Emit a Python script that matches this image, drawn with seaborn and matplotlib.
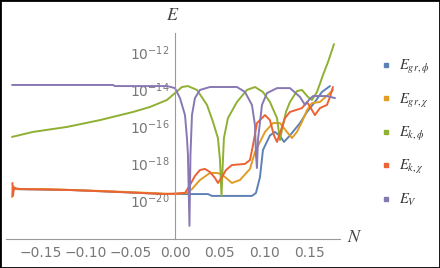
import numpy as np
import pandas as pd
import seaborn as sns
import matplotlib.pyplot as plt
import matplotlib.ticker as mticker
from matplotlib.lines import Line2D
from matplotlib.patches import Rectangle

# Values: N and log10(E) for each energy component
n_grphi = [-0.181, -0.117, -0.0615, -0.0112, 0.0, 0.0369, 0.0413, 0.086, 0.0905, 0.095, 0.0983,
           0.1061, 0.1117, 0.1173, 0.1218, 0.1285, 0.1397, 0.1475, 0.1564, 0.1642, 0.1732]
e_grphi = [-19.41, -19.46, -19.57, -19.68, -19.68, -19.68, -19.78, -19.78, -19.62, -18.76, -17.3,
           -16.51, -16.32, -16.54, -16.86, -16.51, -15.84, -15.24, -14.7, -14.16, -13.84]

n_grchi = [-0.1821, -0.181, -0.1777, -0.1453, -0.0838, -0.0279, 0.0, 0.0134, 0.019, 0.0279, 0.0391,
           0.048, 0.0559, 0.0637, 0.0726, 0.0838, 0.0894, 0.095, 0.1006, 0.1095, 0.1173, 0.1251,
           0.1307, 0.1363, 0.1419, 0.1475, 0.1531, 0.162, 0.1709, 0.1765]
e_grchi = [-19.84, -19.24, -19.41, -19.41, -19.51, -19.62, -19.68, -19.62, -19.41, -18.92, -18.54,
           -18.54, -18.76, -19.08, -18.92, -18.32, -17.41, -16.86, -16.32, -15.84, -15.84, -16.32,
           -16.65, -16.32, -15.78, -15.14, -14.76, -14.7, -14.32, -14.05]

n_kphi = [-0.1821, -0.1587, -0.1207, -0.0838, -0.0469, -0.0279, -0.0089, 0.0, 0.0078, 0.0145,
          0.0246, 0.0358, 0.0425, 0.048, 0.0503, 0.052, 0.0536, 0.0547, 0.0592, 0.0693, 0.0804,
          0.0894, 0.0983, 0.1061, 0.114, 0.1173, 0.1207, 0.124, 0.1285, 0.1363, 0.1419, 0.1486,
          0.1531, 0.1587, 0.1654, 0.171, 0.1777]
e_kphi = [-16.59, -16.32, -16.05, -15.68, -15.24, -14.97, -14.59, -14.22, -13.89, -13.84,
          -14.05, -14.86, -15.78, -16.65, -17.84, -19.78, -17.84, -16.65, -15.57, -14.7, -14.05,
          -13.89, -14.16, -14.7, -15.57, -16.76, -15.95, -15.24, -14.7, -14.11, -14.05, -14.43,
          -14.59, -14.16, -13.24, -12.54, -11.57]

n_kchi = [-0.1816, -0.181, -0.1799, -0.1732, -0.1173, -0.0615, -0.0112, 0.0112, 0.0168, 0.0223,
          0.0279, 0.0335, 0.0391, 0.0447, 0.048, 0.0525, 0.057, 0.0637, 0.0782, 0.0838, 0.0872,
          0.0916, 0.0972, 0.1006, 0.1061, 0.1106, 0.114, 0.1173, 0.1229, 0.1285, 0.1419, 0.1475,
          0.1531, 0.1564, 0.162, 0.1698, 0.1732, 0.1765]
e_kchi = [-19.08, -19.78, -19.35, -19.41, -19.46, -19.57, -19.68, -19.62, -19.19, -18.7,
          -18.38, -18.32, -18.49, -18.81, -19.08, -18.76, -18.38, -18.11, -18.05, -17.84, -17.03,
          -15.84, -15.57, -15.41, -15.68, -16.51, -16.86, -16.38, -15.57, -15.24, -15.03, -14.7,
          -15.14, -15.41, -15.03, -14.86, -14.43, -13.89]

n_v = [-0.182, -0.0693, -0.067, -0.0089, 0.0, 0.0056, 0.0112, 0.0134, 0.0145, 0.0162, 0.0173,
       0.019, 0.0223, 0.0279, 0.0391, 0.0693, 0.0782, 0.086, 0.0894, 0.0905, 0.0916, 0.0927,
       0.0972, 0.1028, 0.114, 0.1285, 0.1397, 0.1453, 0.1497, 0.1542, 0.1698, 0.1788]
e_v = [-13.78, -13.78, -13.84, -13.84, -13.95, -14.49, -15.41, -16.65, -17.57, -21.4, -17.57,
       -15.41, -14.49, -14.05, -13.89, -13.89, -14.16, -14.86, -15.95, -17.57, -18.27, -16.76,
       -14.86, -14.22, -13.95, -13.95, -14.43, -14.86, -14.59, -14.38, -14.38, -14.49]

names = ['$E_{gr,\\phi}$', '$E_{gr,\\chi}$', '$E_{k,\\phi}$', '$E_{k,\\chi}$', '$E_V$']
colors = ['#5E81B5', '#E19C24', '#8FB032', '#EB6235', '#8778B3']

frames = []
for name, n, e in zip(names, [n_grphi, n_grchi, n_kphi, n_kchi, n_v],
                      [e_grphi, e_grchi, e_kphi, e_kchi, e_v]):
    frames.append(pd.DataFrame({'N': n, 'E': 10.0 ** np.array(e), 'series': name}))
df = pd.concat(frames, ignore_index=True)

sns.set_style('white')
plt.rcParams['font.family'] = ['DejaVu Sans']

fig = plt.figure(figsize=(4.4, 2.68), dpi=100)
ax = fig.add_axes([6 / 440, 29 / 268, 334 / 440, 206 / 268])

sns.lineplot(data=df, x='N', y='E', hue='series', hue_order=names, palette=colors,
             sort=False, estimator=None, legend=False, lw=1.4, ax=ax)

ax.set_yscale('log')
ax.set_xlim(-0.1888, 0.1844)
ax.set_ylim(10 ** -22.11, 10 ** -10.97)

axcol = '#9a9a9a'
labcol = '#777777'
for s in ['top', 'right']:
    ax.spines[s].set_visible(False)
ax.spines['left'].set_position(('data', 0))
for s in ['left', 'bottom']:
    ax.spines[s].set_color(axcol)
    ax.spines[s].set_linewidth(0.8)

ax.xaxis.set_major_locator(mticker.MultipleLocator(0.05))
ax.xaxis.set_minor_locator(mticker.MultipleLocator(0.01))
ax.xaxis.set_major_formatter(mticker.FuncFormatter(
    lambda v, p: f'{abs(v):.2f}' if abs(v) < 1e-9 else f'{v:.2f}'.replace('-', '\u2212')))

ax.yaxis.set_major_locator(mticker.FixedLocator([10.0 ** k for k in range(-20, -11, 2)]))
ax.yaxis.set_minor_locator(mticker.FixedLocator([10.0 ** k for k in range(-21, -12, 2)]))
ax.yaxis.set_major_formatter(mticker.FuncFormatter(lambda v, p: f'$10^{{{int(round(np.log10(v)))}}}$'))
ax.yaxis.set_minor_formatter(mticker.NullFormatter())

ax.tick_params(which='both', direction='in', color=axcol, width=0.8, labelcolor=labcol, labelsize=10)
ax.tick_params(which='major', length=4)
ax.tick_params(which='minor', length=2)
ax.tick_params(axis='x', pad=5)
ax.tick_params(axis='y', pad=4)
ax.set_xlabel('')
ax.set_ylabel('')

fig.text(173 / 440, 1 - 15 / 268, '$E$', ha='center', va='center', fontsize=13,
         color='#444444', math_fontfamily='stix')
fig.text(355 / 440, 1 - 237 / 268, '$N$', ha='center', va='center', fontsize=13,
         color='#444444', math_fontfamily='stix')

handles = [Line2D([], [], ls='none', marker='s', ms=2.2, color=c) for c in colors]
leg = fig.legend(handles, names, loc='center left', bbox_to_anchor=(368 / 440, 1 - 133 / 268),
                 frameon=False, fontsize=10.5, handlelength=0.6, handletextpad=0.65,
                 labelspacing=1.05)
for t in leg.get_texts():
    t.set_math_fontfamily('stix')
    t.set_color('#333333')

fig.patches.append(Rectangle((0, 0), 1, 1, transform=fig.transFigure, fill=False,
                             edgecolor='black', lw=2))

fig.savefig('out.png', dpi=100)
